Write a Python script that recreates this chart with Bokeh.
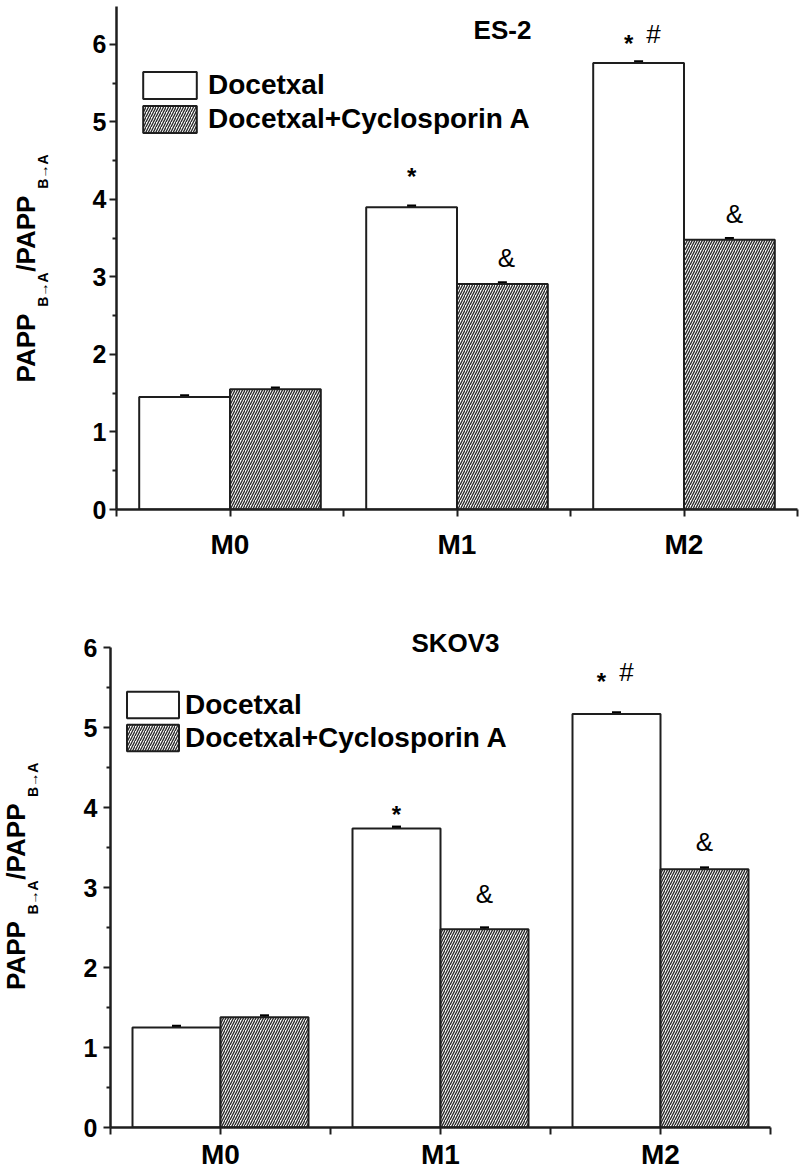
import math
from bokeh.plotting import figure
from bokeh.models import (Range1d, FixedTicker, Whisker, ColumnDataSource, Legend,
                          LegendItem, Label, TeeHead)
from bokeh.layouts import column, row
from bokeh.core.properties import value
from bokeh.embed import file_html
from bokeh.resources import INLINE

# ---------------- data ----------------
categories = ["M0", "M1", "M2"]
series_names = ["Docetxal", "Docetxal+Cyclosporin A"]
y_ticks = [0, 1, 2, 3, 4, 5, 6]

es2_title = "ES-2"
es2_docetaxel = [1.45, 3.90, 5.76]
es2_docetaxel_err = [0.02, 0.02, 0.02]
es2_combo = [1.55, 2.91, 3.48]
es2_combo_err = [0.02, 0.02, 0.02]
es2_docetaxel_marks = [[], ["*"], ["*", "#"]]
es2_combo_marks = [[], ["&"], ["&"]]

skov3_title = "SKOV3"
skov3_docetaxel = [1.25, 3.74, 5.17]
skov3_docetaxel_err = [0.02, 0.02, 0.02]
skov3_combo = [1.38, 2.48, 3.23]
skov3_combo_err = [0.02, 0.02, 0.02]
skov3_docetaxel_marks = [[], ["*"], ["*", "#"]]
skov3_combo_marks = [[], ["&"], ["&"]]

ylabel_parts = [("PAPP", "big"), ("B\u2192A", "sub"), ("/PAPP", "big"), ("B\u2192A", "sub")]

# ---------------- style ----------------
FONT = "Liberation Sans"
INK = "#1e1e1e"
ADV = {"P": 0.667, "A": 0.722, "B": 0.722, "/": 0.278, "\u2192": 0.7}
YLAB_W = 55


def text_width(s, size):
    return sum(ADV.get(ch, 0.6) for ch in s) * size


top_cfg = dict(width=745, height=580, left=61, right=3, top=6, bottom=71, ymax=6.49,
               bounds=None,
               xlab_size="28px", xlab_standoff=12, ylab_standoff=3,
               legend_loc=(20, 373), legend_size="28px", glyph_w=67, glyph_h=34,
               legend_spacing=-1, legend_standoff=5,
               title_pos=(386, 480),
               ylabel_x=25, ylabel_sub_x=42, ylabel_y=198, ylabel_big=26, ylabel_sub=14,
               ylabel_gap=5,
               mark_offsets={(0, 1, 0): (0, 31), (1, 1, 0): (4, 26), (0, 2, 0): (-10, 20),
                             (0, 2, 1): (15, 29), (1, 2, 0): (5, 26)})

bot_cfg = dict(width=717, height=592, left=55, right=2, top=20, bottom=43, ymax=6.59,
               bounds=(0, 6),
               xlab_size="28px", xlab_standoff=4, ylab_standoff=6,
               legend_loc=(10, 373), legend_size="28px", glyph_w=65, glyph_h=33,
               legend_spacing=-4, legend_standoff=0,
               title_pos=(345, 485),
               ylabel_x=15, ylabel_sub_x=32, ylabel_y=181, ylabel_big=26, ylabel_sub=14,
               ylabel_gap=5,
               mark_offsets={(0, 1, 0): (0, 14), (1, 1, 0): (0, 35), (0, 2, 0): (-15, 33),
                             (0, 2, 1): (10, 42), (1, 2, 0): (0, 27)})


def make_ylabel(cfg):
    # a text-only strip whose frame is aligned with the neighbouring plot frame;
    # its data units are pixels measured from the bottom of the strip
    h = cfg["height"]
    p = figure(width=YLAB_W, height=h, output_backend="svg", toolbar_location=None,
               x_range=Range1d(0, YLAB_W), y_range=Range1d(cfg["bottom"], h - cfg["top"]),
               x_axis_type=None, y_axis_type=None,
               min_border_left=0, min_border_right=0,
               min_border_top=cfg["top"], min_border_bottom=cfg["bottom"])
    p.outline_line_color = None
    p.background_fill_color = "white"
    p.border_fill_color = "white"
    ypos = cfg["ylabel_y"]
    for txt, kind in ylabel_parts:
        size = cfg["ylabel_big"] if kind == "big" else cfg["ylabel_sub"]
        xpos = cfg["ylabel_x"] if kind == "big" else cfg["ylabel_sub_x"]
        p.text(x=[xpos], y=[ypos], text=[txt], angle=math.pi / 2,
               text_font=value(FONT), text_font_style="bold",
               text_font_size=f"{size}px", text_align="left",
               text_baseline="alphabetic", text_color="black")
        ypos += text_width(txt, size) + cfg["ylabel_gap"]
    return p


def make_panel(cfg, title, doc, doc_err, combo, combo_err, doc_marks, combo_marks):
    n = len(categories)
    xs = [i + 1 for i in range(n)]
    bw = 0.4
    p = figure(width=cfg["width"], height=cfg["height"], output_backend="svg",
               toolbar_location=None,
               x_range=Range1d(0.5, n + 0.5), y_range=Range1d(0, cfg["ymax"]),
               min_border_left=cfg["left"], min_border_right=cfg["right"],
               min_border_top=cfg["top"], min_border_bottom=cfg["bottom"])
    p.outline_line_color = None
    p.xgrid.visible = False
    p.ygrid.visible = False
    p.background_fill_color = "white"
    p.border_fill_color = "white"

    series = [(doc, doc_err, doc_marks, -bw / 2), (combo, combo_err, combo_marks, bw / 2)]
    renderers = []
    for s, (vals, errs, marks, shift) in enumerate(series):
        src = ColumnDataSource(dict(
            x=[x + shift for x in xs], top=vals,
            upper=[v + e for v, e in zip(vals, errs)],
            lower=[v - e for v, e in zip(vals, errs)]))
        if s == 0:
            r = p.vbar(x="x", top="top", bottom=0, width=bw, source=src,
                       fill_color="white", line_color=INK, line_width=2)
        else:
            r = p.vbar(x="x", top="top", bottom=0, width=bw, source=src,
                       fill_color="#fafafa", line_color=INK, line_width=2,
                       hatch_pattern="/", hatch_color="#262626", hatch_scale=5,
                       hatch_weight=1.3)
        renderers.append(r)
        w = Whisker(base="x", upper="upper", lower="lower", source=src,
                    dimension="height", line_color="black", line_width=2.5,
                    upper_head=TeeHead(size=9, line_width=2.5, line_color="black"),
                    lower_head=TeeHead(size=9, line_width=2.5, line_color="black"))
        p.add_layout(w)
        # significance marks
        for i, syms in enumerate(marks):
            for k, sym in enumerate(syms):
                dx, rise = cfg["mark_offsets"].get((s, i, k), (0, 26))
                star = sym == "*"
                p.text(x=[xs[i] + shift], y=[vals[i]], text=[sym],
                       x_offset=dx, y_offset=-rise,
                       text_align="center", text_baseline="alphabetic",
                       text_font=value(FONT),
                       text_font_style="bold" if star else "normal",
                       text_font_size="24px" if star else "26px",
                       text_color="black")

    # axes
    xa = p.xaxis[0]
    xa.ticker = FixedTicker(ticks=xs, minor_ticks=[i + 0.5 for i in range(n + 1)])
    xa.major_label_overrides = {x: c for x, c in zip(xs, categories)}
    xa.major_tick_out = 7
    xa.major_tick_in = 0
    xa.minor_tick_out = 7
    xa.minor_tick_in = 0
    xa.major_label_standoff = cfg["xlab_standoff"]
    xa.major_label_text_font = FONT
    xa.major_label_text_font_style = "bold"
    xa.major_label_text_font_size = cfg["xlab_size"]
    xa.major_label_text_color = "black"

    ya = p.yaxis[0]
    ya.ticker = FixedTicker(ticks=y_ticks, minor_ticks=[t + 0.5 for t in y_ticks[:-1]])
    if cfg["bounds"] is not None:
        ya.bounds = cfg["bounds"]
    ya.major_tick_out = 7
    ya.major_tick_in = 0
    ya.minor_tick_out = 4
    ya.minor_tick_in = 0
    ya.major_label_standoff = cfg["ylab_standoff"]
    ya.major_label_text_font = FONT
    ya.major_label_text_font_style = "bold"
    ya.major_label_text_font_size = "25px"
    ya.major_label_text_color = "black"

    for ax in (xa, ya):
        ax.axis_line_width = 2.5
        ax.axis_line_color = INK
        ax.major_tick_line_width = 2
        ax.minor_tick_line_width = 2
        ax.major_tick_line_color = INK
        ax.minor_tick_line_color = INK

    # legend
    legend = Legend(items=[LegendItem(label=series_names[0], renderers=[renderers[0]]),
                           LegendItem(label=series_names[1], renderers=[renderers[1]])],
                    location=cfg["legend_loc"], padding=0, margin=0,
                    spacing=cfg["legend_spacing"], glyph_width=cfg["glyph_w"],
                    glyph_height=cfg["glyph_h"], label_standoff=cfg["legend_standoff"],
                    label_height=cfg["glyph_h"],
                    border_line_color=None, background_fill_alpha=0,
                    label_text_font=FONT, label_text_font_style="bold",
                    label_text_font_size=cfg["legend_size"], label_text_color="black",
                    label_text_baseline="middle")
    p.add_layout(legend)

    # title (inside the frame)
    tx, ty = cfg["title_pos"]
    p.add_layout(Label(x=tx, y=ty, x_units="screen", y_units="screen", text=title,
                       text_font=FONT, text_font_style="bold", text_font_size="26px",
                       text_align="center", text_baseline="middle", text_color="black"))
    return p


p_top = make_panel(top_cfg, es2_title, es2_docetaxel, es2_docetaxel_err, es2_combo,
                   es2_combo_err, es2_docetaxel_marks, es2_combo_marks)
p_bot = make_panel(bot_cfg, skov3_title, skov3_docetaxel, skov3_docetaxel_err, skov3_combo,
                   skov3_combo_err, skov3_docetaxel_marks, skov3_combo_marks)

layout = column(row(make_ylabel(top_cfg), p_top, spacing=0),
                row(make_ylabel(bot_cfg), p_bot, spacing=0), spacing=0)
open("out.html", "w").write(file_html(layout, INLINE))
